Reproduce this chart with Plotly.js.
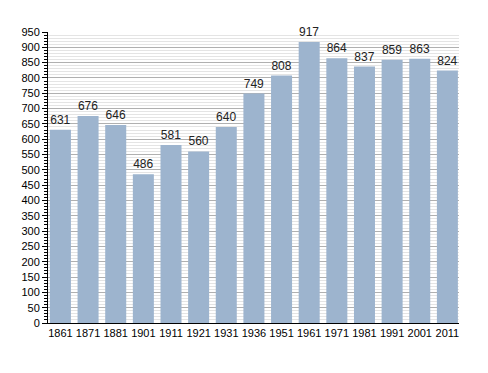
<!DOCTYPE html>
<html>
<head>
<meta charset="utf-8">
<script src="https://cdn.plot.ly/plotly-3.0.1.min.js"></script>
<style>html,body{margin:0;padding:0;background:#fff;}#chart{width:488px;height:373px;}</style>
</head>
<body>
<div id="chart"></div>
<script>
const years = ["1861","1871","1881","1901","1911","1921","1931","1936","1951","1961","1971","1981","1991","2001","2011"];
const population = [631,676,646,486,581,560,640,749,808,917,864,837,859,863,824];
const yTicks = [0,50,100,150,200,250,300,350,400,450,500,550,600,650,700,750,800,850,900,950];

const trace = {
  type: 'bar',
  x: years,
  y: population,
  text: population.map(String),
  textposition: 'outside',
  cliponaxis: false,
  textfont: {family: 'Liberation Sans, Arial, sans-serif', size: 12, color: '#222'},
  marker: {color: '#9db4ce', line: {width: 0}},
  width: 0.76,
  hoverinfo: 'x+y'
};

const layout = {
  width: 488, height: 373,
  margin: {l: 48, r: 29, t: 32, b: 50, pad: 0},
  paper_bgcolor: '#fff', plot_bgcolor: '#fff',
  showlegend: false,
  font: {family: 'Liberation Sans, Arial, sans-serif', size: 11, color: '#000'},
  xaxis: {
    type: 'category',
    range: [-0.45, 14.42],
    showline: true, linecolor: '#000', linewidth: 1,
    ticks: '', showgrid: false, zeroline: false,
    tickfont: {size: 11, color: '#000'}
  },
  yaxis: {
    range: [0, 950],
    tickvals: yTicks,
    ticktext: yTicks.map(String),
    showline: true, linecolor: '#000', linewidth: 1,
    ticks: 'outside', ticklen: 5, tickcolor: '#000',
    showgrid: true, gridcolor: '#b0b0b0', gridwidth: 1,
    zeroline: false,
    tickfont: {size: 11, color: '#000'},
    minor: {dtick: 10, showgrid: true, gridcolor: '#e4e4e4', gridwidth: 1, ticks: 'outside', ticklen: 3, tickcolor: '#000'}
  },
  bargap: 0.24
};

Plotly.newPlot('chart', [trace], layout, {displayModeBar: false, staticPlot: true});
</script>
</body>
</html>
